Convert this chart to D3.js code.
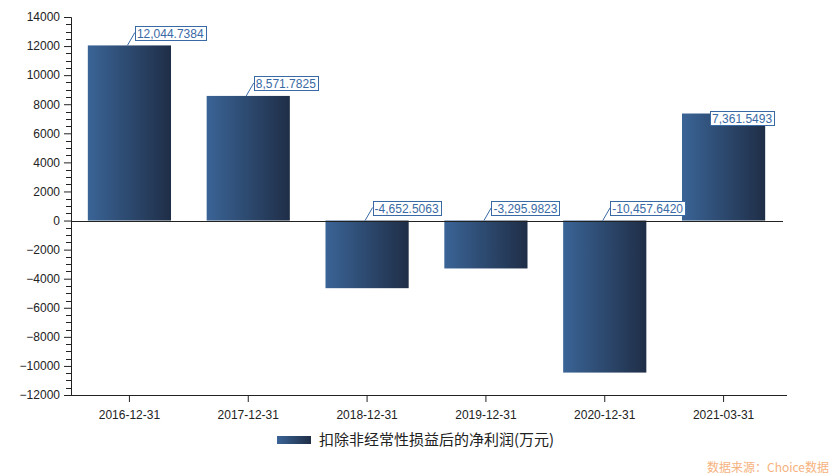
<!DOCTYPE html>
<html><head><meta charset="utf-8">
<script src="https://cdn.jsdelivr.net/npm/d3@7"></script>
<style>body{margin:0;background:#fff;} svg{display:block;}</style>
</head><body>
<svg id="c" width="831" height="475"></svg>
<script>
const categories = ["2016-12-31","2017-12-31","2018-12-31","2019-12-31","2020-12-31","2021-03-31"];
const values = [12044.7384, 8571.7825, -4652.5063, -3295.9823, -10457.6420, 7361.5493];
const labels = ["12,044.7384","8,571.7825","-4,652.5063","-3,295.9823","-10,457.6420","7,361.5493"];
const yTicks = [-12000,-10000,-8000,-6000,-4000,-2000,0,2000,4000,6000,8000,10000,12000,14000];
const seriesName = "扣除非经常性损益后的净利润(万元)";
const sourceText = "数据来源：Choice数据";

const svg = d3.select("#c");
const font = "'Liberation Sans', Arial, sans-serif";
const defs = svg.append("defs");
const g = defs.append("linearGradient").attr("id","bg").attr("x1","0").attr("x2","1").attr("y1","0").attr("y2","0");
g.append("stop").attr("offset","0").attr("stop-color","#3a6496");
g.append("stop").attr("offset","1").attr("stop-color","#1f2e47");

const x = d3.scaleBand().domain(categories).range([70, 783]).paddingInner(0.3).paddingOuter(0.15);
const y = d3.scaleLinear().domain([-12000, 14000]).range([395, 17]);

// bars
svg.append("g").selectAll("rect").data(values).join("rect")
  .attr("x", (d,i)=>x(categories[i]))
  .attr("width", x.bandwidth())
  .attr("y", d=>y(Math.max(0,d)))
  .attr("height", d=>Math.abs(y(d)-y(0)))
  .attr("fill","url(#bg)");

// y axis
const yAxis = d3.axisLeft(y).tickValues(yTicks).tickSize(7).tickPadding(4).tickFormat(d3.format("d"));
const ya = svg.append("g").attr("transform","translate(71,0)").call(yAxis);
ya.select(".domain").attr("stroke","#222");
ya.selectAll(".tick line").attr("stroke","#222");
ya.selectAll("text").attr("font-family",font).attr("font-size",12).attr("fill","#222");
// minor ticks
const minor = d3.range(-12000, 14000, 500).filter(v=>v%2000!==0);
svg.append("g").selectAll("line").data(minor).join("line")
  .attr("x1",66).attr("x2",71).attr("y1",d=>Math.round(y(d))+0.5).attr("y2",d=>Math.round(y(d))+0.5)
  .attr("stroke","#222");

// zero line
svg.append("line").attr("x1",71).attr("x2",783).attr("y1",Math.round(y(0))+0.5).attr("y2",Math.round(y(0))+0.5)
  .attr("stroke","#222").attr("stroke-width",1);

// x axis
const xa = svg.append("g").attr("transform","translate(0,395)")
  .call(d3.axisBottom(x).tickSize(7).tickPadding(8).tickSizeOuter(0));
xa.select(".domain").attr("stroke","#222").attr("d","M71,0.5H787");
xa.selectAll(".tick line").attr("stroke","#222");
xa.selectAll("text").attr("font-family",font).attr("font-size",12).attr("fill","#222");

// data labels
const lg = svg.append("g");
values.forEach((v,i)=>{
  const cx = x(categories[i]) + x.bandwidth()/2;
  const anchor = v>0 ? y(v) : y(0);
  const last = i === values.length-1;
  let bx, by;
  if (last) { bx = cx - 13.5; by = anchor - 3; }
  else {
    bx = cx + 5.5; by = anchor - 19.5;
    lg.append("line").attr("x1",cx-2).attr("y1",anchor).attr("x2",cx+5.5).attr("y2",anchor-13)
      .attr("stroke","#3a6aa5").attr("stroke-width",1);
  }
  const t = lg.append("text").attr("x",bx+2).attr("y",by+12).text(labels[i])
    .attr("font-family",font).attr("font-size",12).attr("fill","#3a6aa5");
  const w = t.node().getComputedTextLength();
  lg.insert("rect","text:last-child").attr("x",Math.round(bx)+0.5).attr("y",Math.round(by)+0.5)
    .attr("width",Math.round(w+4)).attr("height",14)
    .attr("fill","#fff").attr("stroke","#3a6aa5").attr("stroke-width",1);
});

// legend
svg.append("rect").attr("x",277).attr("y",436).attr("width",34).attr("height",8).attr("fill","url(#bg)");
svg.append("text").attr("x",319).attr("y",445).text(seriesName)
  .attr("font-family","'Noto Sans CJK SC', sans-serif").attr("font-size",15).attr("fill","#222");

// source
svg.append("text").attr("x",829).attr("y",472).attr("text-anchor","end").text(sourceText)
  .attr("font-family","'Noto Sans CJK SC', sans-serif").attr("font-size",12).attr("fill","#f6b27e");
</script>
</body></html>
